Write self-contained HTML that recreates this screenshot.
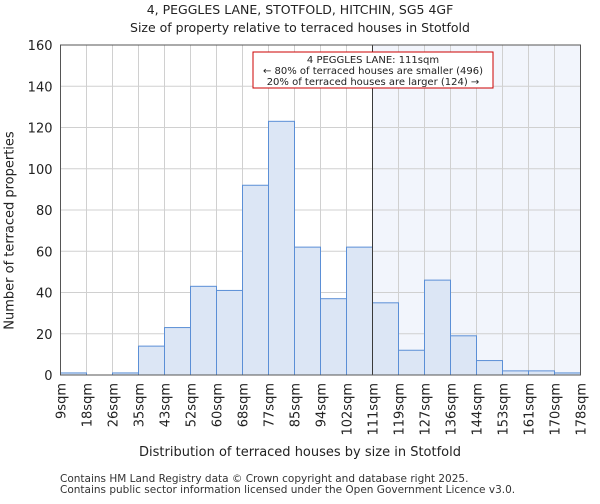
<!DOCTYPE html>
<html><head><meta charset="utf-8"><style>
body{margin:0;background:#fff;font-family:"DejaVu Sans","Liberation Sans",sans-serif}
svg text{font-family:"DejaVu Sans","Liberation Sans",sans-serif;fill:#222}
</style></head><body>
<svg id="c" width="600" height="500"></svg>
<script>
const binLabels=["9sqm","18sqm","26sqm","35sqm","43sqm","52sqm","60sqm","68sqm","77sqm","85sqm","94sqm","102sqm","111sqm","119sqm","127sqm","136sqm","144sqm","153sqm","161sqm","170sqm","178sqm"];
const counts=[1,0,1,14,23,43,41,92,123,62,37,62,35,12,46,19,7,2,2,1];
const yTicks=[0,20,40,60,80,100,120,140,160];
const markerIndex=12;
const L=60.5,R=580.5,T=45,B=375,yMax=160;
const NS="http://www.w3.org/2000/svg";
const svg=document.getElementById('c');
const bw=(R-L)/counts.length;
const xs=i=>L+i*bw;
const ys=v=>B-(v/yMax)*(B-T);
function mk(tag,a,parent){const e=document.createElementNS(NS,tag);for(const k in a)e.setAttribute(k,a[k]);(parent||svg).appendChild(e);return e;}
let e;
e=mk('rect',{x:xs(markerIndex),y:T,width:R-xs(markerIndex),height:B-T,fill:'#f2f5fc'});


yTicks.forEach(t=>{
 e=mk('line',{x1:L,x2:R,y1:ys(t),y2:ys(t),stroke:'#d0d0d0','stroke-width':1});
 
 
 e=mk('text',{x:L-8,y:ys(t)+5,'text-anchor':'end','font-size':13});e.textContent=t;
 
 
});
binLabels.forEach((lab,i)=>{
 e=mk('line',{x1:xs(i),x2:xs(i),y1:T,y2:B,stroke:'#d0d0d0','stroke-width':1});
 
 
 e=mk('text',{transform:`translate(${xs(i)+5},${B+8}) rotate(-90)`,'text-anchor':'end','font-size':13});e.textContent=lab;
 
 
});
counts.forEach((v,i)=>{
 e=mk('rect',{x:xs(i),y:ys(v),width:bw,height:B-ys(v),fill:'#dce6f5',stroke:'#5b8fd6','stroke-width':1});
 
 
});
e=mk('line',{x1:xs(markerIndex),x2:xs(markerIndex),y1:T,y2:B,stroke:'#3a3a3a','stroke-width':1});


e=mk('rect',{x:L,y:T,width:R-L,height:B-T,fill:'none',stroke:'#555','stroke-width':1});


e=mk('rect',{x:253,y:52,width:240,height:36,fill:'#fff',stroke:'#c00','stroke-width':1});


[["4 PEGGLES LANE: 111sqm",63],["← 80% of terraced houses are smaller (496)",74],["20% of terraced houses are larger (124) →",85]].forEach(([t,y])=>{
 e=mk('text',{x:373,y:y,'text-anchor':'middle','font-size':10});e.textContent=t;
 
 
});
</script>
<div style="position:absolute;left:0;top:0;width:600px;text-align:center;font-size:12.5px;line-height:18px;padding-top:1px;color:#222">4, PEGGLES LANE, STOTFOLD, HITCHIN, SG5 4GF<br>Size of property relative to terraced houses in Stotfold</div>
<div style="position:absolute;left:0;top:445px;width:600px;text-align:center;font-size:13px;color:#222">Distribution of terraced houses by size in Stotfold</div>
<div style="position:absolute;left:-100px;top:223px;width:220px;text-align:center;font-size:13px;white-space:nowrap;color:#222;transform:rotate(-90deg)">Number of terraced properties</div>
<div style="position:absolute;left:60px;top:474px;font-size:10.5px;line-height:11px;color:#333">Contains HM Land Registry data © Crown copyright and database right 2025.<br>Contains public sector information licensed under the Open Government Licence v3.0.</div>
</body></html>
